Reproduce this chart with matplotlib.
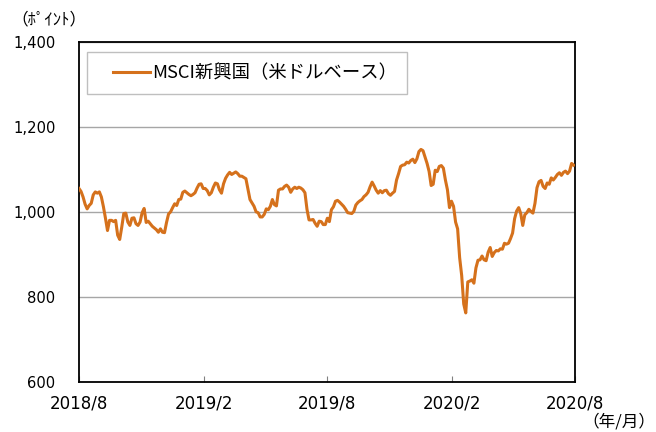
import pandas as pd
import matplotlib
matplotlib.use("Agg")
import matplotlib.pyplot as plt
from matplotlib.ticker import FuncFormatter
from matplotlib.patches import Rectangle

plt.rcParams["font.family"] = ["Noto Sans CJK JP", "DejaVu Sans"]

# MSCI emerging index (USD base), every 3 days
START = "2018-08-01"
msci_em = [
    1055, 1048, 1035, 1018, 1007, 1015, 1020, 1040, 1047, 1044,
    1047, 1035, 1012, 985, 956, 980, 980, 977, 980, 945,
    935, 964, 996, 997, 976, 968, 985, 986, 972, 968,
    976, 998, 1008, 975, 978, 972, 966, 962, 958, 952,
    960, 952, 951, 975, 995, 1000, 1010, 1019, 1015, 1029,
    1030, 1046, 1049, 1045, 1041, 1038, 1041, 1045, 1056, 1065,
    1066, 1055, 1055, 1050, 1040, 1045, 1058, 1068, 1066, 1052,
    1044, 1066, 1079, 1087, 1093, 1088, 1091, 1094, 1090, 1084,
    1084, 1081, 1078, 1054, 1029, 1021, 1013, 1000, 998, 988,
    988, 994, 1007, 1005, 1013, 1029, 1017, 1014, 1051, 1054,
    1054, 1060, 1063, 1058, 1046, 1054, 1058, 1055, 1058, 1056,
    1052, 1045, 1006, 981, 981, 982, 973, 966, 978, 977,
    970, 970, 985, 977, 1005, 1012, 1025, 1027, 1023, 1018,
    1013, 1006, 998, 997, 996, 1001, 1016, 1022, 1026, 1029,
    1036, 1040, 1046, 1059, 1070, 1061, 1051, 1044, 1050, 1045,
    1050, 1051, 1043, 1039, 1044, 1048, 1075, 1090, 1107, 1110,
    1111, 1117, 1115, 1121, 1124, 1116, 1125, 1142, 1147, 1144,
    1129, 1114, 1095, 1062, 1065, 1098, 1095, 1107, 1109, 1103,
    1075, 1052, 1010, 1025, 1013, 976, 960, 892, 850, 783,
    762, 835, 837, 840, 832, 868, 886, 887, 896, 887,
    885, 905, 916, 895, 904, 909, 908, 913, 912, 926,
    924, 926, 937, 950, 984, 1002, 1010, 996, 968, 993,
    998, 1006, 1001, 997, 1020, 1057, 1071, 1074, 1060, 1055,
    1068, 1065, 1080, 1075, 1081, 1088, 1092, 1086, 1093, 1096,
    1090, 1096, 1114, 1110,
]
dates = pd.date_range(START, periods=len(msci_em), freq="3D")

tick_dates = ["2018-08-01", "2019-02-01", "2019-08-01", "2020-02-01", "2020-08-01"]
tick_labels = ["2018/8", "2019/2", "2019/8", "2020/2", "2020/8"]
y_ticks = [600, 800, 1000, 1200, 1400]

fig = plt.figure(figsize=(6.56, 4.32), dpi=100)
ax = fig.add_axes([79 / 656, 1 - 381.7 / 432, 496 / 656, 339.7 / 432])

ax.plot(dates, msci_em, color="#D5711C", lw=2.2, label="MSCI新興国（米ドルベース）", zorder=3)

ax.set_xlim(pd.Timestamp("2018-08-01"), pd.Timestamp("2020-08-01"))
ax.set_ylim(600, 1400)
ax.set_xticks(pd.to_datetime(tick_dates))
ax.set_xticklabels(tick_labels, family="DejaVu Sans", fontsize=12)
ax.set_yticks(y_ticks)
ax.yaxis.set_major_formatter(FuncFormatter(lambda v, p: f"{v:,.0f}"))
for lab in ax.get_yticklabels():
    lab.set_family("DejaVu Sans")
    lab.set_fontsize(10.6)

ax.tick_params(axis="x", direction="in", length=4, width=0.8, pad=9.5, color="#808080")
ax.tick_params(axis="y", length=0, pad=17)

ax.grid(axis="y", color="#A6A6A6", lw=1.0)
ax.set_axisbelow(True)
for s in ax.spines.values():
    s.set_color("black")
    s.set_linewidth(1.3)

# legend box
ax.add_patch(Rectangle((0.0161, 0.847), 0.645, 0.1236, transform=ax.transAxes,
                       fill=False, edgecolor="#BFBFBF", lw=1.0, zorder=4))
ax.legend(loc="center left", bbox_to_anchor=(0.0685, 0.9087), frameon=False,
          fontsize=13.2, borderpad=0, borderaxespad=0, handlelength=2.0,
          handletextpad=0.12)

fig.text(0.018, 0.954, "（ﾎﾟｲﾝﾄ）", fontsize=12, va="center", ha="left")
fig.text(0.999, 0.022, "（年/月）", fontsize=12, va="center", ha="right")

fig.savefig("out.png", dpi=100)
